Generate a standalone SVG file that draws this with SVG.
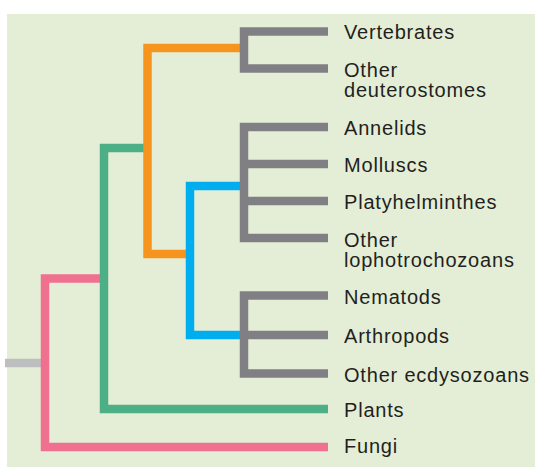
<svg xmlns="http://www.w3.org/2000/svg" width="542" height="473" viewBox="0 0 542 473">
<style>
.bg{fill:#e4eed6}
.ln{fill:none;stroke-width:8.5;stroke-linejoin:miter;stroke-linecap:butt}
.gray{stroke:#808084}
.orange{stroke:#f7941d}
.green{stroke:#4caf86}
.blue{stroke:#00aeef}
.pink{stroke:#f07090}
.root{stroke:#bcbec0}
text{font-family:"Liberation Sans",Arial,sans-serif;font-size:20px;letter-spacing:0.8px;fill:#231f20}
</style>
<rect class="bg" x="7" y="14" width="528" height="453"/>
<g id="connectors">
<path class="ln root" d="M5,363 H42"/>
<path class="ln pink" d="M100,278.5 H45 V447 H328"/>
<path class="ln green" d="M144,148 H104 V409 H328"/>
<path class="ln orange" d="M240,48 H147.5 V254 H186"/>
<path class="ln blue" d="M240,186 H190 V335 H240"/>
<path class="ln gray" d="M328,31.5 H244 V68.5 H328"/>
<path class="ln gray" d="M328,127 H244 V238 H328 M244,164 H328 M244,201 H328"/>
<path class="ln gray" d="M328,295.5 H244 V373.5 H328 M244,335 H328"/>
</g>
<g id="vertebrates"><text x="344" y="39">Vertebrates</text></g>
<g id="other-deuterostomes"><text x="344" y="77">Other</text><text x="344" y="97">deuterostomes</text></g>
<g id="annelids"><text x="344" y="135">Annelids</text></g>
<g id="molluscs"><text x="344" y="172">Molluscs</text></g>
<g id="platyhelminthes"><text x="344" y="209">Platyhelminthes</text></g>
<g id="other-lophotrochozoans"><text x="344" y="246.5">Other</text><text x="344" y="267">lophotrochozoans</text></g>
<g id="nematods"><text x="344" y="304">Nematods</text></g>
<g id="arthropods"><text x="344" y="343">Arthropods</text></g>
<g id="other-ecdysozoans"><text x="344" y="381.5">Other ecdysozoans</text></g>
<g id="plants"><text x="344" y="416.5">Plants</text></g>
<g id="fungi"><text x="344" y="453">Fungi</text></g>
</svg>
